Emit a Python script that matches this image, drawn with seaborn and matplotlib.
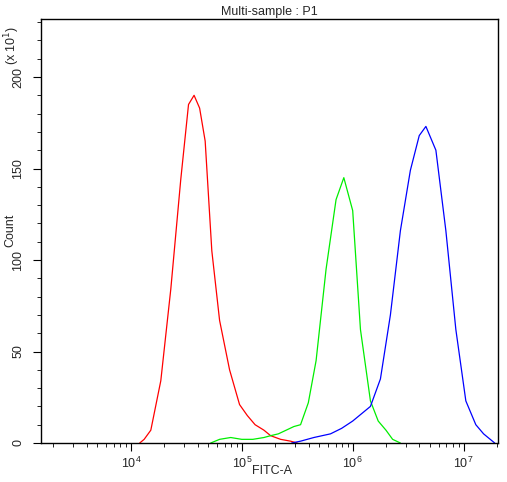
import matplotlib
matplotlib.use("Agg")
import matplotlib.pyplot as plt
import seaborn as sns
import pandas as pd
from matplotlib.ticker import LogLocator, NullFormatter, MultipleLocator

sns.set_style("white")
plt.rcParams['font.family'] = ['Liberation Sans', 'DejaVu Sans']

# log10(FITC-A) vs count (x10^1)
red_x = [4.08, 4.12, 4.18, 4.27, 4.36, 4.45, 4.52, 4.57, 4.62, 4.67, 4.73, 4.80, 4.89, 4.98, 5.05, 5.12, 5.20, 5.26, 5.35, 5.44, 5.50]
red_y = [0, 2, 7, 34, 84, 144, 185, 190, 183, 165, 105, 67, 40, 21, 15, 10, 7, 4, 2, 1, 0]
green_x = [4.72, 4.80, 4.90, 5.00, 5.10, 5.20, 5.26, 5.33, 5.40, 5.47, 5.53, 5.60, 5.67, 5.76, 5.85, 5.92, 6.00, 6.07, 6.16, 6.23, 6.30, 6.36, 6.43]
green_y = [0, 2, 3, 2, 2, 3, 4, 5, 7, 9, 10, 22, 45, 95, 133, 145, 127, 62, 23, 12, 7, 2, 0]
blue_x = [5.45, 5.53, 5.65, 5.80, 5.90, 6.00, 6.08, 6.16, 6.25, 6.34, 6.43, 6.52, 6.60, 6.66, 6.75, 6.84, 6.93, 7.02, 7.11, 7.18, 7.24, 7.28]
blue_y = [0, 1, 3, 5, 8, 12, 16, 20, 35, 70, 116, 149, 168, 173, 160, 116, 62, 23, 10, 5, 2, 0]

frames = []
for name, xs, ys in [("red", red_x, red_y), ("green", green_x, green_y), ("blue", blue_x, blue_y)]:
    frames.append(pd.DataFrame({"x": [10 ** v for v in xs], "y": ys, "s": name}))
df = pd.concat(frames)

fig = plt.figure(figsize=(5.07, 4.82), dpi=100)
ax = fig.add_axes([41 / 507, 1 - 443 / 482, 457 / 507, 424 / 482])
sns.lineplot(data=df, x="x", y="y", hue="s", palette={"red": "#ff0000", "green": "#00ee00", "blue": "#0000ff"},
             legend=False, linewidth=0.9, ax=ax, sort=False)
ax.set_xscale("log")
ax.set_xlim(10 ** 3.19, 10 ** 7.31)
ax.set_ylim(0, 231.7)
ax.xaxis.set_major_locator(LogLocator(base=10, numticks=10))
ax.xaxis.set_minor_locator(LogLocator(base=10, subs=range(2, 10), numticks=50))
ax.xaxis.set_minor_formatter(NullFormatter())
ax.yaxis.set_major_locator(MultipleLocator(50))
ax.yaxis.set_minor_locator(MultipleLocator(10))
ax.tick_params(which="both", direction="out", color="black", left=True, bottom=True)
ax.tick_params(which="major", length=6, labelsize=9)
ax.tick_params(which="minor", length=3)
ax.tick_params(axis="y", pad=6)
for lab in ax.get_yticklabels():
    lab.set_rotation(90)
    lab.set_va("center")
for sp in ax.spines.values():
    sp.set_color("black")
    sp.set_linewidth(1)
ax.set_xlabel("")
ax.set_ylabel("")
fig.text(272 / 507, 1 - 471 / 482, "FITC-A", fontsize=9, ha="center", va="center")
fig.text(10 / 507, 1 - 230 / 482, "Count", fontsize=9, rotation=90, ha="center", va="center")
ax.set_title("Multi-sample : P1", fontsize=9, pad=3)
fig.text(12 / 507, 1 - 45 / 482, r"(x 10$^1$)", rotation=90, fontsize=9, ha="center", va="center")
fig.savefig("out.png", dpi=100)
